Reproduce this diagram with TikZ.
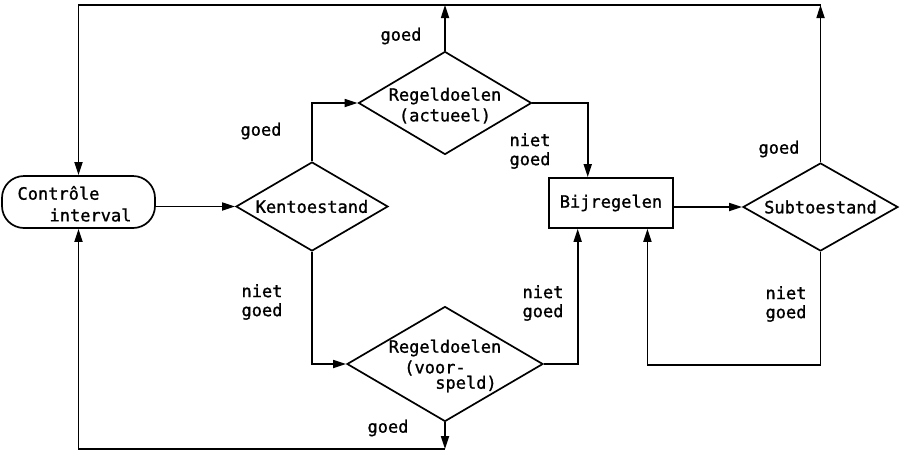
\documentclass[tikz,border=0pt]{standalone}
\usepackage{fontspec}
\newfontfamily\lettering[FakeBold=1.2]{DejaVu Sans Mono}
\usetikzlibrary{arrows.meta,shapes.geometric,calc}
\begin{document}
\begin{tikzpicture}[x=1pt,y=-1pt,
  txt/.style={font=\lettering\fontsize{17}{19}\selectfont, inner sep=0pt},
  lbl/.style={txt, align=left},
  line/.style={line width=1.7pt},
  arr/.style={line, -{Triangle[length=13pt,width=8pt]}},
  dia/.style={draw, line width=1.7pt, diamond, inner sep=0pt},
  box/.style={draw, line width=1.7pt, rectangle, inner sep=0pt},
  term/.style={box, rounded corners=22pt},
]
\useasboundingbox (0,0) rectangle (903,451);

% process steps
\node[term, minimum width=153pt, minimum height=52pt,
  label={[txt,xshift=-20pt,yshift=9pt]center:Contrôle},
  label={[txt,xshift=12pt,yshift=-13pt]center:interval}] (ctl) at (78.5,202) {};
\node[dia, minimum width=152pt, minimum height=89pt,
  label={[txt]center:Kentoestand}] (ken) at (312,206.5) {};
\node[dia, minimum width=173pt, minimum height=103pt,
  label={[txt,yshift=7pt]center:Regeldoelen},
  label={[txt,yshift=-13pt]center:(actueel)}] (ra) at (445,103) {};
\node[dia, minimum width=196pt, minimum height=115pt,
  label={[txt,yshift=16pt]center:Regeldoelen},
  label={[txt,xshift=-10pt,yshift=-4pt]center:(voor-},
  label={[txt,xshift=21pt,yshift=-20pt]center:speld)}] (rv) at (445,364) {};
\node[box, minimum width=124pt, minimum height=50pt,
  label={[txt]center:Bijregelen}] (bij) at (611,203) {};
\node[dia, minimum width=155pt, minimum height=88pt,
  label={[txt]center:Subtoestand}] (sub) at (820.5,207) {};

% corner points of the feedback loops
\coordinate (tl) at (ctl.north |- 0,5);
\coordinate (tr) at (sub.north |- 0,5);
\coordinate (tm) at (ra.north |- 0,5);
\coordinate (bl) at (ctl.south |- 0,449);
\coordinate (bm) at (rv.south |- 0,449);
\coordinate (bin1) at ($(bij.north west)!0.315!(bij.north east)$);
\coordinate (bin2) at ($(bij.south west)!0.235!(bij.south east)$);
\coordinate (bin3) at ($(bij.south west)!0.79!(bij.south east)$);
\coordinate (sb) at (sub.south |- 0,365);

% connectors
\draw[arr] (ctl.east |- ken.west) -- (ken.west);
\draw[arr] (ken.north) |- (ra.west);
\draw[arr] (ken.south) |- (rv.west);
\draw[arr] (ra.north) -- (tm);
\draw[arr] (ra.east) -| (bin1);
\draw[arr] (rv.east) -| (bin2);
\draw[arr] (rv.south) -- (bm);
\draw[arr] (bm) -- (bl) -- (ctl.south);
\draw[arr] (bij.east |- sub.west) -- (sub.west);
\draw[arr] (sub.north) -- (tr);
\draw[arr] (tr) -- (tl) -- (ctl.north);
\draw[arr] (sub.south) -- (sb) -| (bin3);

% branch labels
\node[txt] (g1) at (401,36) {goed};
\node[txt] (g2) at (261,131) {goed};
\node[lbl] (ng1) at (530,151) {niet\\goed};
\node[txt] (g3) at (779,149) {goed};
\node[lbl] (ng2) at (262,302) {niet\\goed};
\node[lbl] (ng3) at (543,303) {niet\\goed};
\node[lbl] (ng4) at (786,304) {niet\\goed};
\node[txt] (g4) at (388,428) {goed};
\end{tikzpicture}
\end{document}
